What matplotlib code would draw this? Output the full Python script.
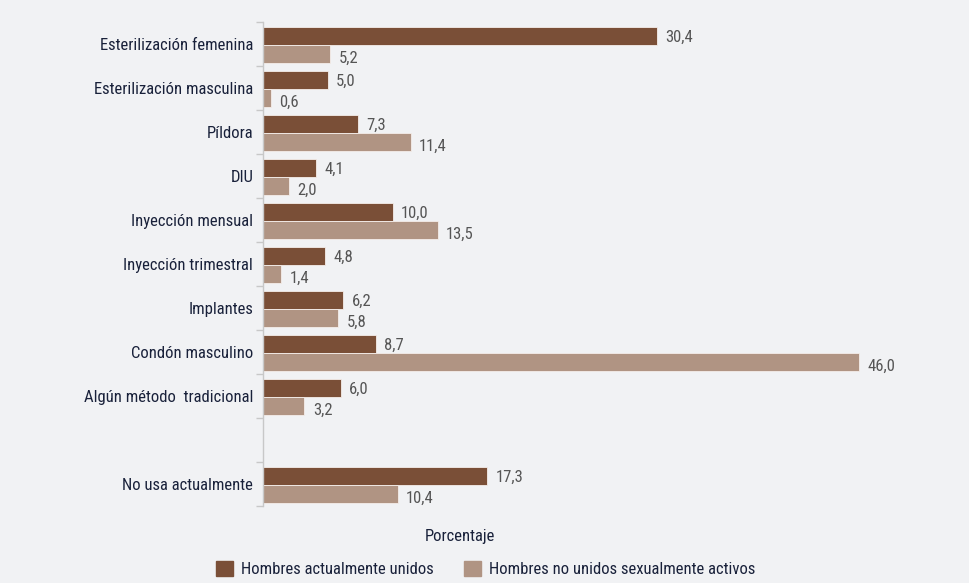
import matplotlib
matplotlib.use("Agg")
import matplotlib.pyplot as plt
from matplotlib.patches import Patch
from matplotlib import font_manager as fm

categories = ["Esterilización femenina", "Esterilización masculina", "Píldora", "DIU",
              "Inyección mensual", "Inyección trimestral", "Implantes", "Condón masculino",
              "Algún método  tradicional", "", "No usa actualmente"]
unidos = [30.4, 5.0, 7.3, 4.1, 10.0, 4.8, 6.2, 8.7, 6.0, None, 17.3]
no_unidos = [5.2, 0.6, 11.4, 2.0, 13.5, 1.4, 5.8, 46.0, 3.2, None, 10.4]
series_names = ["Hombres actualmente unidos", "Hombres no unidos sexualmente activos"]
x_label = "Porcentaje"

names = {f.name for f in fm.fontManager.ttflist}
fam = "DejaVu Sans"
for c in ["Roboto Condensed", "IBM Plex Sans Condensed", "Open Sans Condensed", "Liberation Sans Narrow"]:
    if c in names:
        fam = c
        break
plt.rcParams["font.family"] = [fam, "DejaVu Sans"]

bg = "#f1f2f4"
dark = "#7a4f37"
light = "#b09483"
navy = "#19213a"
gray = "#555555"

fig = plt.figure(figsize=(9.7, 5.83), dpi=100, facecolor=bg)
ax = fig.add_axes([0.2711, 0.132, 0.668, 0.830], facecolor=bg)

h = 0.4
for i, (a, b) in enumerate(zip(unidos, no_unidos)):
    if a is not None:
        ax.barh(i - 0.18, a, height=h, color=dark, edgecolor="#f5eeea", linewidth=0.6)
        ax.annotate(f"{a:.1f}".replace(".", ","), (a, i - 0.18), xytext=(6, -1),
                    textcoords="offset points", va="center", ha="left",
                    fontsize=12, color=gray)
    if b is not None:
        ax.barh(i + 0.22, b, height=h, color=light, edgecolor="#f5eeea", linewidth=0.6)
        ax.annotate(f"{b:.1f}".replace(".", ","), (b, i + 0.22), xytext=(6, -3),
                    textcoords="offset points", va="center", ha="left",
                    fontsize=12, color=gray)

n = len(categories)
ax.set_ylim(n - 0.5, -0.5)
ax.set_xlim(0, 50)
ax.set_yticks(range(n))
ax.set_yticklabels(categories, fontsize=12, color=navy)
ax.set_yticks([k - 0.5 for k in range(n + 1)], minor=True)
ax.tick_params(axis="y", which="major", length=0, pad=7)
ax.tick_params(axis="y", which="minor", length=5, color="#c8c8c8", width=1)
ax.set_xticks([])
for s in ["top", "right", "bottom"]:
    ax.spines[s].set_visible(False)
ax.spines["left"].set_color("#c8c8c8")
ax.spines["left"].set_linewidth(1)

fig.text(0.474, 0.079, x_label, ha="center", va="center", fontsize=12, color=navy)
handles = [Patch(facecolor=dark, edgecolor=dark), Patch(facecolor=light, edgecolor=light)]
fig.legend(handles, series_names, loc="center", bbox_to_anchor=(0.501, 0.024), ncol=2,
           frameon=False, fontsize=12, handlelength=1.0, handleheight=1.0,
           handletextpad=0.5, columnspacing=1.8, labelcolor=navy)

fig.savefig("out.png", dpi=100, facecolor=bg)
